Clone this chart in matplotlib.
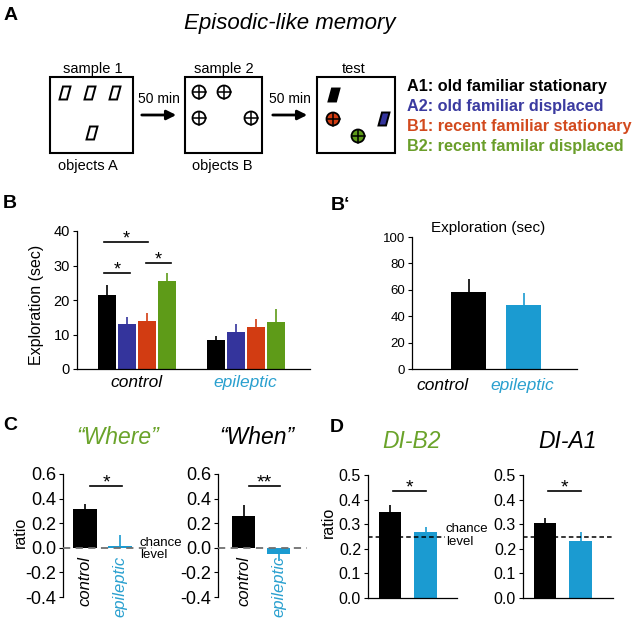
import numpy as np
import matplotlib
matplotlib.use('Agg')
import matplotlib.pyplot as plt
from matplotlib.patches import Polygon, Circle, Rectangle

plt.rcParams['font.family'] = ['Liberation Sans', 'DejaVu Sans']
plt.rcParams['axes.unicode_minus'] = False

# ---- data ----
groups = ['control', 'epileptic']
legend_labels = ['A1: old familiar stationary', 'A2: old familiar displaced',
                 'B1: recent familiar stationary', 'B2: recent familar displaced']

# B: exploration per object (sec), mean and SEM
expl_control = [21.4, 13.0, 13.9, 25.5]
expl_control_err = [2.9, 2.1, 2.3, 2.3]
expl_epileptic = [8.4, 10.7, 12.2, 13.6]
expl_epileptic_err = [1.2, 2.3, 2.3, 3.8]

# B': total exploration (sec)
total_expl = [58.3, 48.5]
total_expl_err = [9.7, 9.1]

# C: "where" and "when" ratios (negative err = downward bar)
where_ratio = [0.315, 0.012]
where_err = [0.045, 0.09]
when_ratio = [0.26, -0.05]
when_err = [0.085, -0.06]

# D: discrimination indices
di_b2 = [0.35, 0.27]
di_b2_err = [0.027, 0.018]
di_a1 = [0.305, 0.23]
di_a1_err = [0.02, 0.037]

# ---- colours ----
obj_colors = ['#000000', '#34349c', '#d23c12', '#5e9b18']
legend_colors = ['#000000', '#3b3ba0', '#d24a1e', '#6a9e2a']
grp_colors = ['#000000', '#1b9bd1']
epi_text = '#2aa0cf'
green_text = '#6aa32a'

fig = plt.figure(figsize=(6.4, 6.3), dpi=100)

# overlay in pixel coordinates for the schematic and annotations
ov = fig.add_axes([0, 0, 1, 1])
ov.set_xlim(0, 640)
ov.set_ylim(630, 0)
ov.axis('off')


def px_axes(l, t, r, b):
    return fig.add_axes([l / 640, 1 - b / 630, (r - l) / 640, (b - t) / 630])


def style(ax, bottom=True, tsize=10.5):
    ax.patch.set_alpha(0)
    for s in ['top', 'right']:
        ax.spines[s].set_visible(False)
    ax.spines['bottom'].set_visible(bottom)
    for s in ['left', 'bottom']:
        ax.spines[s].set_linewidth(0.9)
    ax.tick_params(axis='y', direction='out', length=3, width=0.8, pad=2, labelsize=tsize)
    ax.tick_params(axis='x', length=0)


def err_lines(ax, x, vals, errs, colors):
    vals = np.array(vals)
    ax.vlines(x, vals, vals + np.array(errs), colors=colors, lw=1.2, zorder=3)


def sig(ax, x0, x1, y, star, fs=13):
    ax.plot([x0, x1], [y, y], color='black', lw=1.2)
    ax.annotate(star, ((x0 + x1) / 2, y), xytext=(0, -1), textcoords='offset points',
                ha='center', va='baseline', fontsize=fs)


# ---- panel letters ----
for lab, x, y in [('A', 11, 15), ('B', 10, 204), ('B\u2018', 331, 205), ('C', 10, 425), ('D', 337, 427)]:
    ov.text(x, y, lab, fontsize=14, weight='bold', ha='left' if lab == 'B\u2018' else 'center', va='center')

# ---- panel A schematic ----
ov.text(290, 23, 'Episodic-like memory', fontsize=16, style='italic', ha='center', va='center')
boxes = [(50, 133), (185, 262), (317, 395)]
for l, r in boxes:
    ov.add_patch(Rectangle((l, 77), r - l, 76, fill=False, lw=1.5, ec='black'))
ov.text(93, 69, 'sample 1', fontsize=10.5, ha='center', va='center')
ov.text(224, 69, 'sample 2', fontsize=10.5, ha='center', va='center')
ov.text(354, 69, 'test', fontsize=10.5, ha='center', va='center')
ov.text(88, 166, 'objects A', fontsize=10.5, ha='center', va='center')
ov.text(222, 166, 'objects B', fontsize=10.5, ha='center', va='center')
for x0, x1 in [(139, 179), (270, 310)]:
    ov.annotate('', xy=(x1, 115), xytext=(x0, 115),
                arrowprops=dict(arrowstyle='-|>', lw=2, color='black', mutation_scale=14))
    ov.text((x0 + x1) / 2, 99, '50 min', fontsize=10, ha='center', va='center')


def para(cx, cy, fc='none'):
    ov.add_patch(Polygon([(cx - 5.5, cy + 6.5), (cx + 2, cy + 6.5), (cx + 5.5, cy - 6.5), (cx - 2, cy - 6.5)],
                         closed=True, fc=fc, ec='black', lw=1.4))


def cplus(cx, cy, fc='white', r=6.5):
    ov.add_patch(Circle((cx, cy), r, fc=fc, ec='black', lw=1.3))
    ov.plot([cx - r, cx + r], [cy, cy], color='black', lw=1.1)
    ov.plot([cx, cx], [cy - r, cy + r], color='black', lw=1.1)


for cx, cy in [(65, 93), (90, 93), (115, 93), (92, 133)]:
    para(cx, cy)
for cx, cy in [(199, 92), (224, 92), (199, 118), (251, 118)]:
    cplus(cx, cy)
para(334, 95, fc=obj_colors[0])
cplus(333, 119, fc=obj_colors[2])
para(384, 119, fc=obj_colors[1])
cplus(358, 136, fc=obj_colors[3])

for i, (lab, c) in enumerate(zip(legend_labels, legend_colors)):
    ov.text(407, 87 + i * 19.7, lab, fontsize=11.7, weight='bold', color=c, va='center')

# ---- panel B ----
axB = px_axes(77, 231, 310, 369)
style(axB, tsize=10.5)
offs = (np.arange(4) - 1.5) * 0.185
for gi, (vals, errs) in enumerate([(expl_control, expl_control_err),
                                   (expl_epileptic, expl_epileptic_err)]):
    x = gi + offs
    axB.bar(x, vals, width=0.165, color=obj_colors)
    err_lines(axB, x, vals, errs, obj_colors)
axB.set_xlim(-0.55, 1.59)
axB.set_ylim(0, 40)
axB.set_yticks([0, 10, 20, 30, 40])
axB.set_xticks([0, 1])
axB.set_xticklabels(groups, fontsize=12.5, style='italic')
axB.tick_params(axis='x', pad=4)
for t, c in zip(axB.get_xticklabels(), ['black', epi_text]):
    t.set_color(c)
sig(axB, offs[0] - 0.02, offs[2] + 0.01, 36.8, '*')
sig(axB, offs[0] - 0.02, offs[1] + 0.03, 27.8, '*')
sig(axB, offs[2] - 0.01, offs[3] + 0.04, 30.7, '*')
ov.text(37, 305, 'Exploration (sec)', fontsize=11.5, rotation=90, ha='center', va='center')

# ---- panel B' ----
axBp = px_axes(412, 237, 577, 369)
style(axBp, tsize=9.5)
axBp.bar([0, 1], total_expl, width=0.64, color=grp_colors)
err_lines(axBp, [0, 1], total_expl, total_expl_err, grp_colors)
axBp.set_xlim(-1.03, 1.97)
axBp.set_ylim(0, 100)
axBp.set_yticks(np.arange(0, 101, 20))
axBp.set_xticks([-0.48, 0.97])
axBp.set_xticklabels(groups, fontsize=12.5, style='italic')
axBp.tick_params(axis='x', pad=6.5)
for t, c in zip(axBp.get_xticklabels(), ['black', epi_text]):
    t.set_color(c)
ov.text(488, 228, 'Exploration (sec)', fontsize=11, ha='center', va='center')

# ---- panel C ----
c_specs = [(63, 152, 85, where_ratio, where_err, '*', '\u201cWhere\u201d', green_text, 118),
           (218, 307, 243.5, when_ratio, when_err, '**', '\u201cWhen\u201d', 'black', 257)]
for l, r, c0, vals, errs, star, title, tcol, tx in c_specs:
    ax = px_axes(l, 474, r, 597)
    style(ax, bottom=False, tsize=13)
    ax.bar([0, 1], vals, width=0.66, color=grp_colors)
    err_lines(ax, [0, 1], vals, errs, grp_colors)
    ax.axhline(0, color='#707070', ls='--', lw=1.3, dashes=(4, 3), zorder=4)
    ax.set_xlim((l - c0) / 35, (r - c0) / 35)
    ax.set_ylim(-0.4, 0.6)
    ax.set_yticks(np.arange(-0.4, 0.61, 0.2))
    ax.set_yticklabels(['%.1f' % v for v in np.arange(-0.4, 0.61, 0.2)])
    ax.set_xticks([])
    for xi, (g, gc) in enumerate(zip(groups, ['black', epi_text])):
        ax.text(xi, -0.065, g, rotation=90, ha='center', va='top', fontsize=12,
                style='italic', color=gc)
    sig(ax, 0.15, 1.05, 0.5, star, fs=14)
    ov.text(tx, 438, title, fontsize=16.5, style='italic', color=tcol, ha='center', va='center')
ov.text(20, 532, 'ratio', fontsize=11.5, rotation=90, ha='center', va='center')
ov.text(140, 549, 'chance\nlevel', fontsize=9.5, ha='left', va='center', linespacing=1.05)

# ---- panel D ----
d_specs = [(368, 457, 390, di_b2, di_b2_err, 'DI-B2', green_text, 412, 0.865),
           (523, 613, 545, di_a1, di_a1_err, 'DI-A1', 'black', 568, 1.0)]
for l, r, c0, vals, errs, title, tcol, tx, dash_end in d_specs:
    ax = px_axes(l, 475, r, 598)
    style(ax, tsize=11.5)
    ax.bar([0, 1], vals, width=0.634, color=grp_colors)
    err_lines(ax, [0, 1], vals, errs, grp_colors)
    ax.axhline(0.25, xmin=0, xmax=dash_end, color='black', ls='--', lw=1.1, dashes=(3, 2), zorder=4)
    ax.set_xlim((l - c0) / 35.5, (r - c0) / 35.5)
    ax.set_ylim(0, 0.5)
    ax.set_yticks(np.arange(0, 0.51, 0.1))
    ax.set_yticklabels(['%.1f' % v for v in np.arange(0, 0.51, 0.1)])
    ax.set_xticks([])
    sig(ax, 0.08, 1.0, 0.435, '*', fs=14)
    ov.text(tx, 441, title, fontsize=16.5, style='italic', color=tcol, ha='center', va='center')
ov.text(328, 522, 'ratio', fontsize=11.5, rotation=90, ha='center', va='center')
ov.text(446, 535.5, 'chance\nlevel', fontsize=9.5, ha='left', va='center', linespacing=1.05)

fig.savefig('out.png', dpi=100)
